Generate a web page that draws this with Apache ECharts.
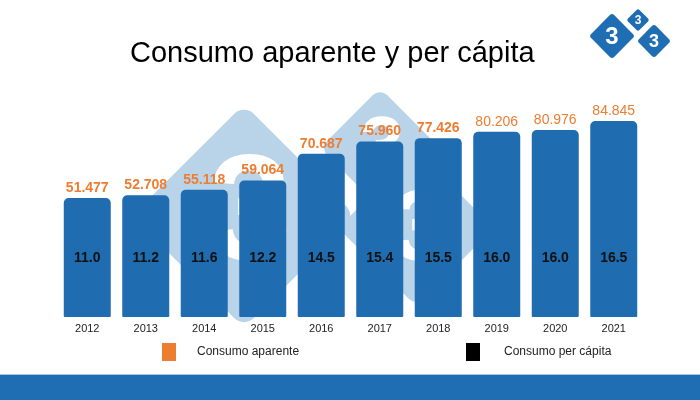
<!DOCTYPE html>
<html>
<head>
<meta charset="utf-8">
<script src="https://cdn.jsdelivr.net/npm/echarts@6/dist/echarts.min.js"></script>
<style>html,body{margin:0;padding:0;background:#fff}#c{width:700px;height:400px}</style>
</head>
<body>
<div id="c"></div>
<script>
var years = ['2012','2013','2014','2015','2016','2017','2018','2019','2020','2021'];
var consumoAparente = [51.477, 52.708, 55.118, 59.064, 70.687, 75.960, 77.426, 80.206, 80.976, 84.845];
var consumoPerCapita = [11.0, 11.2, 11.6, 12.2, 14.5, 15.4, 15.5, 16.0, 16.0, 16.5];
var boldLabel = [true, true, true, true, true, true, true, false, false, false];

var chart = echarts.init(document.getElementById('c'));
var FONT = '"Liberation Sans", Arial, sans-serif';
var WM = '#b9d3e9';
var LOGO = '#1f6eb4';

function diamond(cx, cy, half, color, r, z) {
  var s = half * Math.SQRT2;
  return {type: 'rect', x: cx, y: cy, rotation: Math.PI / 4, z: z, silent: true,
    shape: {x: -s / 2, y: -s / 2, width: s, height: s, r: r}, style: {fill: color}};
}
function digit(cx, cy, size, z) {
  return {type: 'text', x: cx, y: cy, z: z, silent: true,
    style: {text: '3', fill: '#fff', font: 'bold ' + size + 'px ' + FONT, textAlign: 'center', textVerticalAlign: 'middle'}};
}

chart.setOption({
  animation: false,
  title: {text: 'Consumo aparente y per cápita', left: 125, top: 34,
    textStyle: {fontFamily: FONT, fontSize: 29, fontWeight: 'normal', color: '#000'}},
  legend: [
    {left: 157, top: 338, itemWidth: 14, itemHeight: 18, icon: 'rect', selectedMode: false,
      data: [{name: 'Consumo aparente', itemStyle: {color: '#ed7d31'}}],
      textStyle: {fontFamily: FONT, fontSize: 12, color: '#222', padding: [0, 0, 0, 16]}},
    {left: 461, top: 338, itemWidth: 14, itemHeight: 18, icon: 'rect', selectedMode: false,
      data: [{name: 'Consumo per cápita', itemStyle: {color: '#000'}}],
      textStyle: {fontFamily: FONT, fontSize: 12, color: '#222', padding: [0, 0, 0, 19]}}
  ],
  grid: {left: 58, right: 57, top: 86, bottom: 83},
  xAxis: {type: 'category', data: years, axisLine: {show: false}, axisTick: {show: false},
    axisLabel: {fontFamily: FONT, fontSize: 11, color: '#222', margin: 6}},
  yAxis: {type: 'value', min: 0, max: 100, show: false, splitLine: {show: false}},
  graphic: [
    diamond(244, 216, 112, WM, 14, 0),
    diamond(380, 148, 60, WM, 10, 0),
    diamond(416, 228, 78, WM, 10, 0),
    digit(250, 218, 150, 1),
    digit(382, 150, 80, 1),
    digit(420, 232, 100, 1),
    {type: 'rect', z: 0, silent: true, shape: {x: 0, y: 375, width: 700, height: 25}, style: {fill: '#1f6db2'}},
    {type: 'rect', z: 0, silent: true, shape: {x: 0, y: 374, width: 700, height: 1}, style: {fill: '#a8c8e6'}},
    diamond(612, 36, 23, LOGO, 3, 5),
    diamond(638, 20, 11.5, LOGO, 2, 5),
    diamond(654, 41, 17, LOGO, 3, 5),
    digit(612, 37, 24, 6),
    digit(638, 21, 12, 6),
    digit(654, 42, 18, 6)
  ],
  series: [
    {name: 'Consumo aparente', type: 'bar', barWidth: 47, z: 3,
      itemStyle: {color: '#1f6cb0', borderRadius: [5, 5, 1, 1]},
      data: consumoAparente.map(function (v, i) {
        return {value: v, label: {fontWeight: boldLabel[i] ? 'bold' : 'normal'}};
      }),
      label: {show: true, position: 'top', distance: 3, color: '#ed7d31', fontFamily: FONT, fontSize: 14,
        formatter: function (p) { return p.value.toFixed(3); }}},
    {name: 'Consumo per cápita', type: 'bar', barWidth: 47, barGap: '-100%', z: 4,
      itemStyle: {color: 'rgba(0,0,0,0)'},
      data: consumoPerCapita,
      label: {show: true, position: 'insideBottom', distance: 52, color: '#111', fontFamily: FONT, fontSize: 14,
        fontWeight: 'bold', formatter: function (p) { return p.value.toFixed(1); }}}
  ]
});
</script>
</body>
</html>
